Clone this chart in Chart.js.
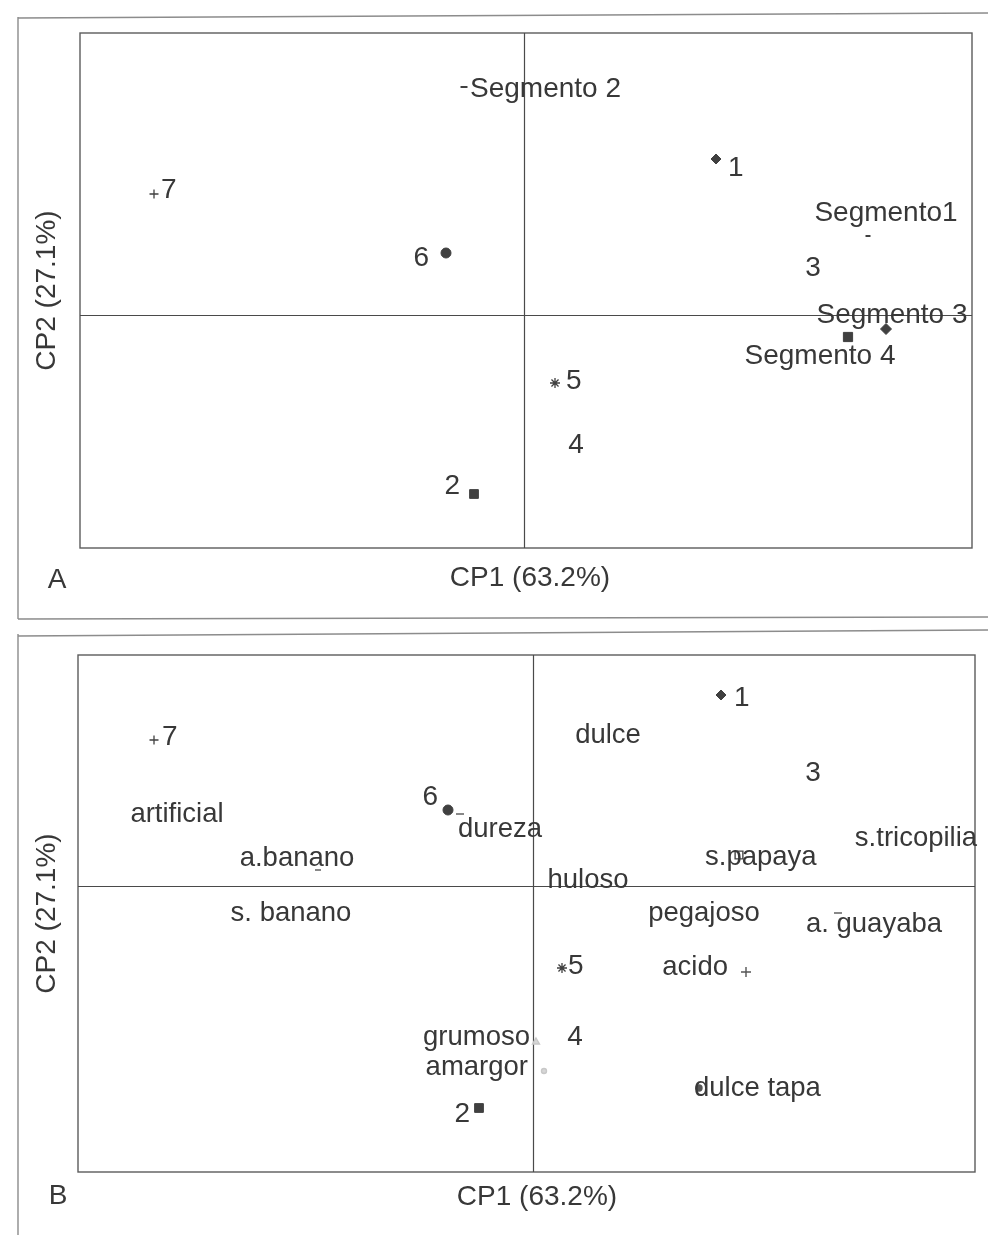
<!DOCTYPE html>
<html>
<head>
<meta charset="utf-8">
<script src="https://cdn.jsdelivr.net/npm/chart.js@4.4.1/dist/chart.umd.min.js"></script>
<style>
  html, body { margin: 0; padding: 0; background: #fff; }
  #wrap { position: relative; width: 988px; height: 1235px; }
  .panel { position: absolute; left: 0; width: 988px; }
</style>
</head>
<body>
<div id="wrap">
  <div class="panel" style="top:0;height:625px"><canvas id="chartA"></canvas></div>
  <div class="panel" style="top:625px;height:610px"><canvas id="chartB"></canvas></div>
</div>
<script>
// ---- Data -------------------------------------------------------------
const sampleNames = ['1', '2', '3', '4', '5', '6', '7'];

// Map A: sample scores and consumer segments on CP1 / CP2
const sampleCP1_A = [1.92, -0.50, 2.89, 0.52, 0.31, -0.78, -3.70];
const sampleCP2_A = [1.56, -1.79, 0.47, -1.30, -0.68, 0.62, 1.21];
const segmentNames = ['Segmento 2', 'Segmento1', 'Segmento 3', 'Segmento 4'];
const segmentCP1 = [-0.60, 3.44, 3.62, 3.24];
const segmentCP2 = [2.28, 0.79, -0.14, -0.22];
const rangeCP1_A = [-4.44, 4.48];
const rangeCP2_A = [-2.33, 2.82];

// Map B: sample scores and sensory attributes on CP1 / CP2
const sampleCP1_B = [1.88, -0.54, 2.80, 0.42, 0.29, -0.85, -3.79];
const sampleCP2_B = [1.91, -2.22, 1.13, -1.51, -0.82, 0.76, 1.46];
const attributeNames = ['dulce', 'dureza', 'artificial', 'a.banano', 's. banano', 'huloso',
  's.papaya', 's.tricopilia', 'pegajoso', 'a. guayaba', 'acido', 'grumoso', 'amargor', 'dulce tapa'];
const attributeCP1 = [0.75, -0.73, -3.56, -2.15, -2.42, 0.55, 2.06, 3.83, 1.71, 3.05, 2.13, 0.03, 0.11, 1.66];
const attributeCP2 = [1.51, 0.72, 0.72, 0.16, -0.27, 0.06, 0.31, 0.48, -0.27, -0.27, -0.86, -1.56, -1.85, -2.02];
const rangeCP1_B = [-4.55, 4.42];
const rangeCP2_B = [-2.86, 2.31];

const axisTitleX = 'CP1 (63.2%)';
const axisTitleY = 'CP2 (27.1%)';

// ---- Styles -----------------------------------------------------------
const FONT = "'Liberation Sans', Arial, sans-serif";
const INK = '#383838';
const MARK = '#404040';

const sampleStyle = {
  pointStyle: ['rectRot', 'rect', 'triangle', 'triangle', 'star', 'circle', 'cross'],
  radius: [5, 6.2, 0, 0, 5, 5, 4.5],
  borderWidth: [1, 1, 1, 1, 1.3, 1, 1.3]
};
// label placement: [dx, dy, align]
const sampleLabelA = [[12, 9, 'left'], [-14, -8, 'right'], [0, 0, 'center'], [0, 0, 'center'],
  [11, -2, 'left'], [-17, 5, 'right'], [7, -4, 'left']];
const sampleLabelB = [[13, 3, 'left'], [-9, 6, 'right'], [0, 0, 'center'], [0, 0, 'center'],
  [6, -2, 'left'], [-10, -13, 'right'], [8, -3, 'left']];
const segmentLabel = [[6, 2, 'left'], [18, -23, 'center'], [6, -14, 'center'], [-28, 19, 'center']];
const attributeLabel = [[0, 0, 'center'], [-2, 15, 'left'], [0, 0, 'center'], [-21, -12, 'center'],
  [0, 0, 'center'], [0, 0, 'center'], [-34, 2, 'left'], [0, 0, 'center'], [0, 0, 'center'],
  [36, 11, 'center'], [-18, -5, 'right'], [-6, -5, 'right'], [-16, -4, 'right'], [-5, 0, 'left']];
const attributeStyle = {
  pointStyle: ['circle', 'line', 'circle', 'line', 'circle', 'circle', 'rect', 'circle', 'circle',
    'line', 'cross', 'triangle', 'circle', 'circle'],
  radius: [0, 4, 0, 3, 0, 0, 5.5, 0, 0, 4, 5, 4, 2.5, 3],
  color: [MARK, '#555', MARK, '#555', MARK, MARK, '#444', MARK, MARK, '#555', '#555', '#c8c8c8', '#c8c8c8', '#555'],
  fill: [MARK, '#555', MARK, '#555', MARK, MARK, '#fff', MARK, MARK, '#555', '#555', '#d6d6d6', '#d6d6d6', '#555']
};

function points(xs, ys) {
  return xs.map((v, i) => ({ x: v, y: ys[i] }));
}

// ---- Frame, axes, titles and point labels ------------------------------
const decor = {
  id: 'decor',
  beforeDatasetsDraw(chart, args, opts) {
    const { ctx, chartArea: a, scales: { x, y } } = chart;
    ctx.save();
    ctx.lineCap = 'butt';
    // outer panel frame
    ctx.strokeStyle = '#8c8c8c';
    ctx.lineWidth = 1.4;
    ctx.beginPath();
    opts.frame.forEach(s => { ctx.moveTo(s[0], s[1]); ctx.lineTo(s[2], s[3]); });
    ctx.stroke();
    // plot box
    ctx.strokeStyle = '#5c5c5c';
    ctx.lineWidth = 1.4;
    ctx.strokeRect(a.left, a.top, a.width, a.height);
    // zero lines of both components
    const x0 = Math.round(x.getPixelForValue(0)) + 0.5;
    const y0 = Math.round(y.getPixelForValue(0)) + 0.5;
    ctx.strokeStyle = '#4a4a4a';
    ctx.lineWidth = 1.2;
    ctx.beginPath();
    ctx.moveTo(x0, a.top); ctx.lineTo(x0, a.bottom);
    ctx.moveTo(a.left, y0); ctx.lineTo(a.right, y0);
    ctx.stroke();
    // axis titles and panel letter
    ctx.fillStyle = INK;
    ctx.font = '28px ' + FONT;
    ctx.textBaseline = 'middle';
    ctx.textAlign = 'center';
    ctx.fillText(axisTitleX, opts.xTitle[0], a.bottom + opts.xTitle[1]);
    ctx.save();
    ctx.translate(a.left + opts.yTitle[0], (a.top + a.bottom) / 2 + opts.yTitle[1]);
    ctx.rotate(-Math.PI / 2);
    ctx.fillText(axisTitleY, 0, 0);
    ctx.restore();
    ctx.fillText(opts.letter, opts.letterPos[0], a.bottom + opts.letterPos[1]);
    ctx.restore();
  },
  afterDatasetsDraw(chart) {
    const { ctx } = chart;
    ctx.save();
    ctx.fillStyle = INK;
    ctx.textBaseline = 'middle';
    chart.data.datasets.forEach((ds, di) => {
      const meta = chart.getDatasetMeta(di);
      ctx.font = ds.labelSize + 'px ' + FONT;
      meta.data.forEach((el, i) => {
        const [dx, dy, align] = ds.labelPlace[i];
        ctx.textAlign = align;
        ctx.fillText(ds.labelText[i], el.x + dx, el.y + dy);
      });
    });
    ctx.restore();
  }
};

function baseOptions(xr, yr, padding, decorOpts) {
  return {
    responsive: true,
    maintainAspectRatio: false,
    animation: false,
    events: [],
    layout: { padding },
    scales: {
      x: { type: 'linear', min: xr[0], max: xr[1], display: false },
      y: { type: 'linear', min: yr[0], max: yr[1], display: false }
    },
    plugins: { legend: { display: false }, tooltip: { enabled: false }, decor: decorOpts }
  };
}

const sampleDataset = (xs, ys, place) => ({
  data: points(xs, ys),
  labelText: sampleNames,
  labelPlace: place,
  labelSize: 28,
  pointStyle: sampleStyle.pointStyle,
  pointRadius: sampleStyle.radius,
  pointBorderWidth: sampleStyle.borderWidth,
  pointBackgroundColor: MARK,
  pointBorderColor: MARK,
  showLine: false
});

// Panel A: samples and segments
new Chart(document.getElementById('chartA'), {
  type: 'scatter',
  data: {
    datasets: [
      sampleDataset(sampleCP1_A, sampleCP2_A, sampleLabelA),
      {
        data: points(segmentCP1, segmentCP2),
        labelText: segmentNames,
        labelPlace: segmentLabel,
        labelSize: 28,
        pointStyle: ['line', 'line', 'rectRot', 'rect'],
        pointRadius: [3.5, 2.5, 5.5, 6.5],
        pointBorderWidth: [2, 2, 1, 1],
        pointBackgroundColor: MARK,
        pointBorderColor: MARK,
        showLine: false
      }
    ]
  },
  plugins: [decor],
  options: baseOptions(rangeCP1_A, rangeCP2_A, { left: 80, top: 33, right: 16, bottom: 77 }, {
    frame: [[18, 18, 988, 13], [18, 17, 18, 619], [18, 619, 988, 617]],
    xTitle: [530, 30],
    yTitle: [-33, 0],
    letter: 'A',
    letterPos: [57, 32]
  })
});

// Panel B: samples and sensory attributes
new Chart(document.getElementById('chartB'), {
  type: 'scatter',
  data: {
    datasets: [
      sampleDataset(sampleCP1_B, sampleCP2_B, sampleLabelB),
      {
        data: points(attributeCP1, attributeCP2),
        labelText: attributeNames,
        labelPlace: attributeLabel,
        labelSize: 27.5,
        pointStyle: attributeStyle.pointStyle,
        pointRadius: attributeStyle.radius,
        pointBorderWidth: 1.4,
        pointBackgroundColor: attributeStyle.fill,
        pointBorderColor: attributeStyle.color,
        showLine: false
      }
    ]
  },
  plugins: [decor],
  options: baseOptions(rangeCP1_B, rangeCP2_B, { left: 78, top: 30, right: 13, bottom: 63 }, {
    frame: [[18, 11, 988, 5], [18, 9, 18, 610]],
    xTitle: [537, 25],
    yTitle: [-31, 0],
    letter: 'B',
    letterPos: [58, 24]
  })
});
</script>
</body>
</html>
